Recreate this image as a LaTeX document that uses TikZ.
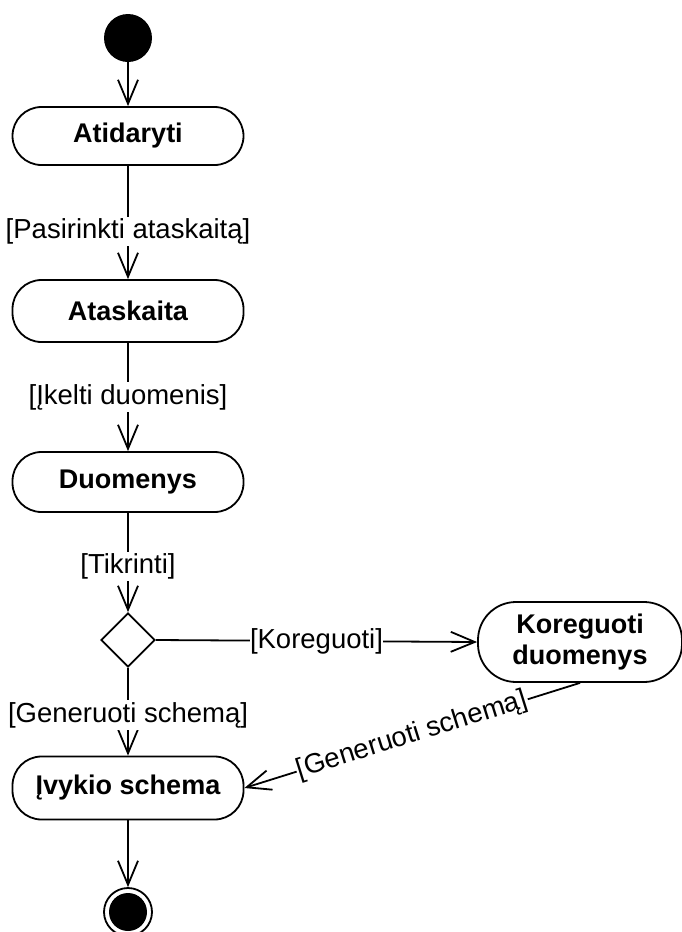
\documentclass[tikz,border=0pt]{standalone}
\usepackage{fontspec}
\setmainfont{Liberation Sans}
\usetikzlibrary{arrows.meta,shapes.geometric}
\begin{document}
\begin{tikzpicture}[x=1pt,y=-1pt,
  act/.style={draw, line width=1.8pt, rounded corners=29pt, minimum width=231pt, minimum height=60pt, font=\fontsize{27}{31}\selectfont\bfseries, align=center, inner sep=0pt},
  arr/.style={line width=1.8pt, -{Straight Barb[length=24pt, width=20pt, line width=1.8pt]}},
  lbl/.style={fill=white, inner sep=2pt, font=\fontsize{27.5}{31}\selectfont},
]
\useasboundingbox (0,0) rectangle (682,932);
\node[circle, fill=black, minimum size=48pt, inner sep=0pt] (start) at (128,38) {};
\node[act, minimum height=58pt] (atid) at (128,136) {Atidaryti};
\node[act, minimum height=62pt] (atas) at (128,311) {Ataskaita};
\node[act, minimum height=60pt] (duom) at (128,482) {Duomenys};
\node[draw, diamond, line width=1.8pt, minimum width=54pt, minimum height=54pt, inner sep=0pt] (dec) at (128,640) {};
\node[act, minimum width=204pt, minimum height=80pt, rounded corners=38pt] (kor) at (580,642) {Koreguoti\\duomenys};
\node[act, minimum height=63pt] (ivy) at (128,788) {Įvykio schema};
\node[circle, draw, line width=1.8pt, minimum size=48pt, inner sep=0pt] (fin) at (128,912) {};
\node[circle, fill=black, minimum size=38pt, inner sep=0pt] (finin) at (128,912) {};

\draw[arr] (start.south) -- (atid.north);
\draw[arr] (atid.south) -- node[lbl, pos=0.58] {[Pasirinkti ataskaitą]} (atas.north);
\draw[arr] (atas.south) -- node[lbl, pos=0.5] {[Įkelti duomenis]} (duom.north);
\draw[arr] (duom.south) -- node[lbl, pos=0.54] {[Tikrinti]} (dec.north);
\draw[arr] (dec.east) -- node[lbl, inner sep=0pt, pos=0.5] {[Koreguoti]} (kor.west);
\draw[arr] (dec.south) -- node[lbl, pos=0.54] {[Generuoti schemą]} (ivy.north);
\draw[arr] (kor.south) -- node[lbl, inner sep=1pt, sloped, pos=0.5] {[Generuoti schemą]} (ivy.east);
\draw[arr] (ivy.south) -- (fin.north);
\end{tikzpicture}
\end{document}
